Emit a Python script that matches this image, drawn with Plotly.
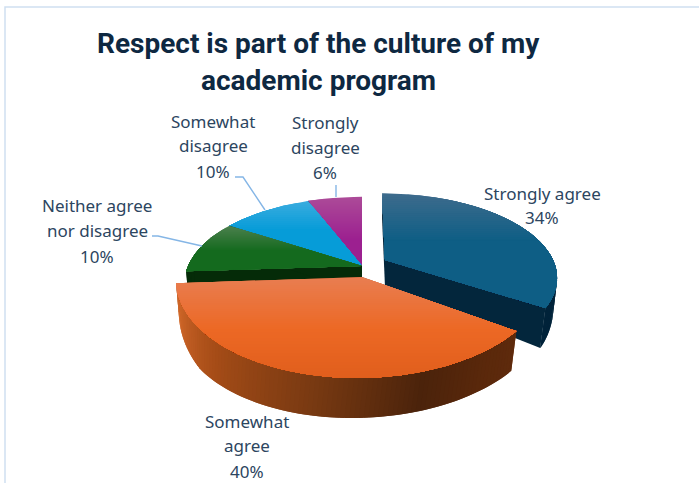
import numpy as np
import plotly.graph_objects as go

# ---- data ----
categories = ["Strongly agree", "Somewhat agree", "Neither agree nor disagree",
              "Somewhat disagree", "Strongly disagree"]
values = [34, 40, 10, 10, 6]
title_lines = ["Respect is part of the culture of my", "academic program"]
label_lines = [["Strongly agree"], ["Somewhat", "agree"], ["Neither agree", "nor disagree"],
               ["Somewhat", "disagree"], ["Strongly", "disagree"]]

# ---- styles ----
top_light = ["#3D6B8C", "#E97D50", "#4A7F4C", "#38ABDF", "#AC4A98"]
top_base = ["#0E5E85", "#EC6824", "#146A1E", "#069CD8", "#9C2090"]
top_end = ["#0E5E85", "#E05E1C", "#146A1E", "#069CD8", "#9C2090"]
grad_span = [47, 52, 24, 28, 42]
wall_stops = [
    [(0, "#05293F"), (1, "#01233A")],
    [(0, "#5E2A0C"), (0.10, "#5A280B"), (0.25, "#4B230B"), (0.5, "#7A3A12"),
     (0.75, "#A54C17"), (1, "#D86C2C")],
    [(0, "#052B08"), (1, "#052B08")],
    [(0, "#03304A"), (1, "#03304A")],
    [(0, "#3A0A35"), (1, "#3A0A35")],
]
# projection of each exploded slice: apex x, apex y, x radius, y radius, perspective, shear
geom = [
    (385, 260, 168, 80, 0.20, 3),
    (362, 277, 186, 101, 0.0, -5),
    (362, 266, 174, 83, 0.20, 0),
    (362, 266, 174, 83, 0.20, 0),
    (362, 266, 174, 83, 0.20, 0),
]
draw_order = [4, 3, 2, 0, 1]
label_pos = [(542, [193, 217]), (247, [421, 445, 471]), (97, [205, 230, 256]),
             (213, [121, 145, 171]), (325, [122, 147, 172])]
leaders = [([152, 158, 202], [236, 236, 246]),
           ([235, 243, 265], [177, 177, 210]),
           ([336, 336], [185, 197])]
TEXT = "#2C4560"
LEADER = "#85B6E6"


def rgb(h):
    return np.array([int(h[i:i + 2], 16) for i in (1, 3, 5)], float)


def mix(a, b, f):
    c = rgb(a) * (1 - f) + rgb(b) * f
    return "rgb(%d,%d,%d)" % tuple(c.round())


def ramp(stops, f):
    for (f0, c0), (f1, c1) in zip(stops, stops[1:]):
        if f <= f1:
            return mix(c0, c1, (f - f0) / (f1 - f0) if f1 > f0 else 0)
    return stops[-1][1]


def project(i, t):
    cx, cy, rx, ry, p, sh = geom[i]
    u, v = np.sin(t), -np.cos(t)
    s = 1 / (1 - p * v)
    return cx + rx * u * s + sh * v, cy + ry * v * s


def drop(i, x, y, v):
    cx = geom[i][0]
    d = np.clip(27 + 25 * v, 25, 40)
    return cx + (x - cx) * 0.984 - 5 * np.clip(v, 0, 1), y + d


def clip_below(xs, ys, y0):
    ox, oy = [], []
    n = len(xs)
    for k in range(n):
        a, b = k, (k + 1) % n
        ina, inb = ys[a] >= y0, ys[b] >= y0
        if ina:
            ox.append(xs[a]); oy.append(ys[a])
        if ina != inb:
            f = (y0 - ys[a]) / (ys[b] - ys[a])
            ox.append(xs[a] + f * (xs[b] - xs[a])); oy.append(y0)
    return ox, oy


fig = go.Figure()


def poly(xs, ys, color, name):
    xs, ys = list(xs), list(ys)
    fig.add_trace(go.Scatter(x=xs + xs[:1], y=ys + ys[:1], mode="lines", fill="toself",
                             fillcolor=color, line=dict(width=0, color=color),
                             hoverinfo="skip", name=name, showlegend=False))


edges = np.cumsum([0] + values) / sum(values) * 2 * np.pi
for i in draw_order:
    t0, t1 = edges[i], edges[i + 1]
    name = categories[i]
    cx, cy = geom[i][:2]
    stops = wall_stops[i]
    # radial walls
    for te in (t0, t1):
        ex, ey = project(i, te)
        v = -np.cos(te)
        bx, by = drop(i, ex, ey, v)
        ax, ay = drop(i, cx, cy, 0.0)
        poly([cx, ex, bx, ax], [cy, ey, by, ay], ramp(stops, 0.5), name)
    # outer wall, strip by strip
    n = max(2, int(np.degrees(t1 - t0) / 1.5))
    ts = np.linspace(t0, t1, n + 1)
    for k in range(n):
        seg = np.linspace(ts[k], ts[min(k + 2, n)], 4)
        px, py = project(i, seg)
        vv = -np.cos(seg)
        qx, qy = drop(i, px, py, vv)
        if vv.max() < -0.05:
            continue
        poly(np.r_[px, qx[::-1]], np.r_[py, qy[::-1]], ramp(stops, k / (n - 1)), name)
    # top face with a vertical light-to-base shading
    seg = np.linspace(t0, t1, 160)
    px, py = project(i, seg)
    xs, ys = np.r_[cx, px], np.r_[cy, py]
    ytop, ybot = ys.min(), ys.max()
    span = grad_span[i]
    y = ytop
    while y < ytop + span:
        f = (y - ytop) / span
        ox, oy = clip_below(xs, ys, y)
        if len(ox) > 2:
            poly(ox, oy, mix(top_light[i], top_base[i], f), name)
        y += 2
    ox, oy = clip_below(xs, ys, ytop + span)
    if len(ox) > 2:
        poly(ox, oy, top_base[i], name)
    y = ytop + span
    while y < ybot and top_end[i] != top_base[i]:
        f = (y - ytop - span) / max(1, ybot - ytop - span)
        ox, oy = clip_below(xs, ys, y)
        if len(ox) > 2:
            poly(ox, oy, mix(top_base[i], top_end[i], f), name)
        y += 3

# leader lines
for lx, ly in leaders:
    fig.add_trace(go.Scatter(x=lx, y=ly, mode="lines", line=dict(color=LEADER, width=1.4),
                             hoverinfo="skip", showlegend=False))

# labels
for i, (lx, lys) in enumerate(label_pos):
    lines = label_lines[i] + [f"{values[i]}%"]
    for text, ly in zip(lines, lys):
        fig.add_annotation(x=lx, y=ly, text=text, showarrow=False, xanchor="center", yanchor="middle",
                           font=dict(family="Noto Sans", size=17, color=TEXT))

for text, ly in zip(title_lines, [43, 80]):
    fig.add_annotation(x=318, y=ly, text=f"<b>{text}</b>", showarrow=False, xanchor="center", yanchor="middle",
                       font=dict(family="Roboto", size=28, color="#0E2841"))

fig.add_shape(type="rect", xref="x", yref="y", x0=5, y0=7, x1=760, y1=540,
              line=dict(color="#CFE0F1", width=1.5), layer="below")

fig.update_layout(
    width=699, height=483, autosize=False,
    margin=dict(l=0, r=0, t=0, b=0),
    paper_bgcolor="white", plot_bgcolor="white",
    xaxis=dict(range=[0, 699], visible=False, fixedrange=True),
    yaxis=dict(range=[483, 0], visible=False, fixedrange=True),
    showlegend=False,
)
fig.write_html("out.html", config={"displayModeBar": False}, include_plotlyjs=True,
               post_script="document.body.style.margin='0';document.documentElement.style.overflow='hidden';")
